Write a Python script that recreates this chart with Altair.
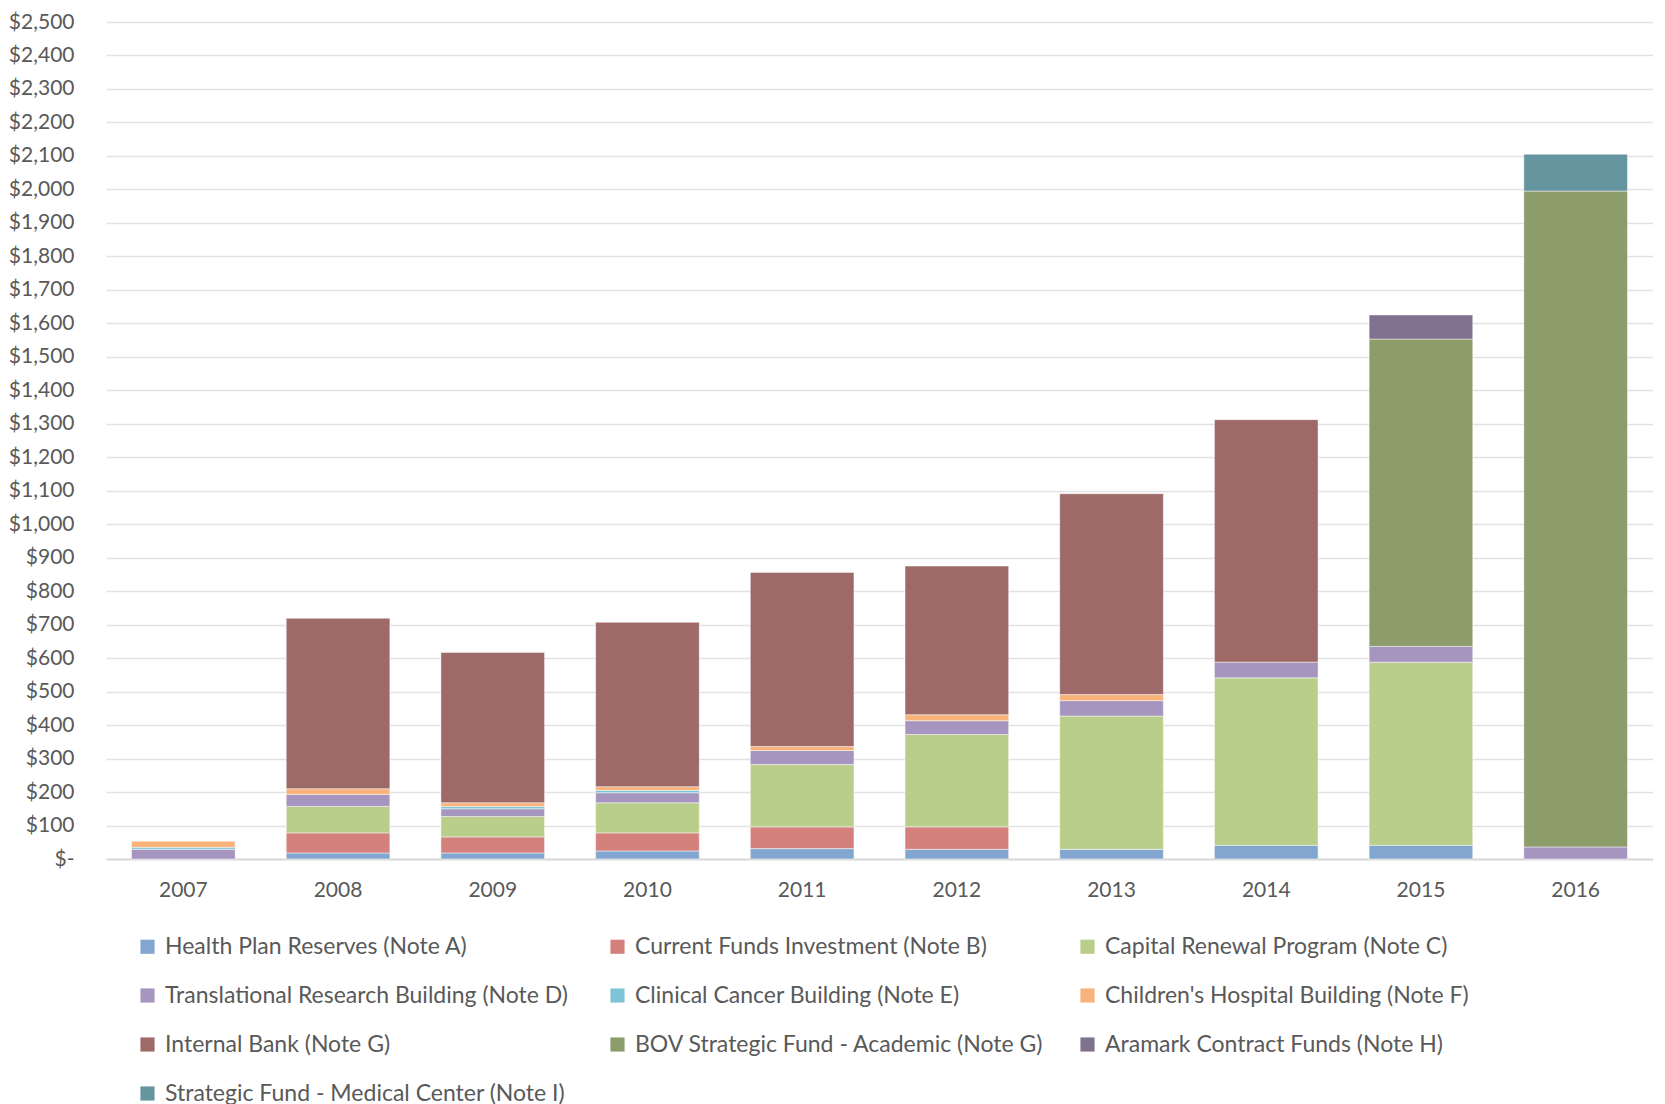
import altair as alt
import pandas as pd

years = ["2007", "2008", "2009", "2010", "2011", "2012", "2013", "2014", "2015", "2016"]

series_names = [
    "Health Plan Reserves (Note A)",
    "Current Funds Investment (Note B)",
    "Capital Renewal Program (Note C)",
    "Translational Research Building (Note D)",
    "Clinical Cancer Building (Note E)",
    "Children's Hospital Building (Note F)",
    "Internal Bank (Note G)",
    "BOV Strategic Fund - Academic (Note G)",
    "Aramark Contract Funds (Note H)",
    "Strategic Fund - Medical Center (Note I)",
]

health_plan = [0, 18, 18, 24, 31, 29, 29, 41, 41, 0]
current_funds = [0, 60, 48, 54, 65, 67, 0, 0, 0, 0]
capital_renewal = [0, 79, 61, 90, 186, 276, 398, 500, 547, 0]
translational = [29, 36, 23, 30, 42, 41, 46, 47, 47, 36]
clinical_cancer = [6, 0, 7, 7, 0, 0, 0, 0, 0, 0]
childrens = [18, 17, 11, 11, 12, 18, 18, 0, 0, 0]
internal_bank = [0, 509, 449, 491, 520, 444, 600, 724, 0, 0]
bov_academic = [0, 0, 0, 0, 0, 0, 0, 0, 918, 1959]
aramark = [0, 0, 0, 0, 0, 0, 0, 0, 72, 0]
strategic_med = [0, 0, 0, 0, 0, 0, 0, 0, 0, 110]

colors = ["#82A6CF", "#D4817D", "#B9CE8A", "#A695BE", "#7EC4D6",
          "#F9B27A", "#9E6A67", "#8C9C6B", "#80728F", "#6596A0"]

all_series = [health_plan, current_funds, capital_renewal, translational, clinical_cancer,
              childrens, internal_bank, bov_academic, aramark, strategic_med]

rows = []
for si, (name, vals) in enumerate(zip(series_names, all_series)):
    for y, v in zip(years, vals):
        if v > 0:
            rows.append({"year": y, "series": name, "value": v, "idx": si})
df = pd.DataFrame(rows)

FONT = "Lato"

chart = alt.Chart(df).mark_bar(stroke="white", strokeWidth=0.8, strokeOpacity=0.6).encode(
    x=alt.X("year:N", sort=years,
            scale=alt.Scale(paddingInner=0.33, paddingOuter=0.165),
            axis=alt.Axis(title=None, labelAngle=0, ticks=False, labelPadding=20,
                          labelFontSize=21, labelColor="#595959", labelFont=FONT,
                          domainColor="#d9d9d9", domainWidth=2)),
    y=alt.Y("value:Q", stack="zero",
            scale=alt.Scale(domain=[0, 2500]),
            axis=alt.Axis(title=None, values=list(range(0, 2501, 100)),
                          labelExpr="datum.value == 0 ? '$-' : '$' + format(datum.value, ',')",
                          ticks=False, domain=False, labelPadding=32,
                          labelFontSize=21, labelColor="#595959", labelFont=FONT,
                          gridColor="#e2e2e2", gridWidth=1.5)),
    color=alt.Color("series:N",
                    scale=alt.Scale(domain=series_names, range=colors),
                    legend=alt.Legend(title=None, orient="none", legendX=30, legendY=913,
                                      direction="horizontal",
                                      columns=3, gridAlign="all", columnPadding=32,
                                      rowPadding=25, symbolType="square", symbolSize=200,
                                      symbolStrokeWidth=0, labelFontSize=23,
                                      labelFont=FONT, labelColor="#595959",
                                      labelLimit=700, labelOffset=6)),
    order=alt.Order("idx:Q", sort="ascending"),
).properties(
    width=1547, height=837, padding={"left": 0, "top": 3, "right": 0, "bottom": 0}
).configure_view(stroke=None)

chart.save("out.html", embed_options={"renderer": "svg", "actions": False})
